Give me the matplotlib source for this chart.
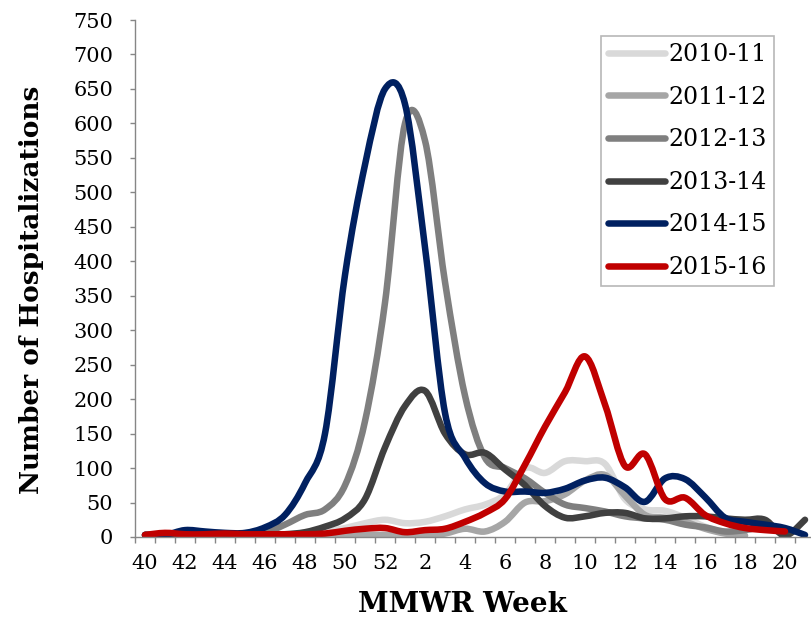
import numpy as np
import matplotlib
matplotlib.use("Agg")
import matplotlib.pyplot as plt
from matplotlib.path import Path
from matplotlib.patches import PathPatch
from matplotlib.lines import Line2D

plt.rcParams['font.family'] = ['DejaVu Serif']

# semaines MMWR (40 a 52 puis 1 a 21)
weeks = list(range(40, 53)) + list(range(1, 22))

# hospitalisations par saison
s2010_11 = [3, 3, 4, 4, 4, 4, 4, 4, 5, 8, 13, 20, 25, 20, 22, 30, 40, 47, 62, 100,
            93, 110, 110, 106, 55, 40, 38, 28, 15, 6, 2]
s2011_12 = [2, 2, 2, 2, 2, 2, 2, 2, 2, 2, 2, 3, 3, 3, 2, 5, 12, 8, 22, 50,
            52, 62, 82, 90, 60, 32, 28, 22, 12, 5, 2]
s2012_13 = [3, 3, 4, 4, 3, 3, 6, 18, 32, 40, 75, 168, 340, 600, 575, 370, 205, 115, 100, 85,
            64, 47, 42, 37, 30, 27, 25, 18, 14, 8, 10, 15, 10]
s2013_14 = [3, 3, 4, 4, 4, 3, 3, 4, 7, 15, 27, 55, 130, 190, 212, 150, 120, 122, 98, 75,
            45, 28, 30, 35, 35, 27, 27, 30, 30, 27, 25, 25, 2, 25]
s2014_15 = [3, 3, 10, 8, 6, 6, 14, 32, 78, 150, 380, 540, 650, 628, 420, 180, 115, 78, 66, 66,
            64, 70, 82, 86, 72, 51, 85, 84, 58, 28, 22, 18, 13, 3]
s2015_16 = [3, 6, 4, 4, 5, 4, 4, 4, 4, 5, 9, 12, 13, 7, 10, 12, 22, 35, 55, 105,
            160, 210, 262, 192, 103, 120, 55, 57, 32, 20, 13, 10, 8]

seasons = ['2010-11', '2011-12', '2012-13', '2013-14', '2014-15', '2015-16']
series = [s2010_11, s2011_12, s2012_13, s2013_14, s2014_15, s2015_16]
colors = ['#d9d9d9', '#a6a6a6', '#7f7f7f', '#404040', '#002060', '#c00000']


def smooth_path(y):
    # courbe lissee facon Excel (Bezier a partir des points voisins)
    x = np.arange(len(y), dtype=float)
    y = np.asarray(y, dtype=float)
    n = len(y)
    verts = [(x[0], y[0])]
    codes = [Path.MOVETO]
    for i in range(n - 1):
        x0, y0 = (x[i - 1], y[i - 1]) if i > 0 else (x[i], y[i])
        x3, y3 = (x[i + 2], y[i + 2]) if i + 2 < n else (x[i + 1], y[i + 1])
        c1 = (x[i] + (x[i + 1] - x0) / 6, y[i] + (y[i + 1] - y0) / 6)
        c2 = (x[i + 1] - (x3 - x[i]) / 6, y[i + 1] - (y3 - y[i]) / 6)
        verts += [c1, c2, (x[i + 1], y[i + 1])]
        codes += [Path.CURVE4] * 3
    return Path(verts, codes)


fig = plt.figure(figsize=(8.11, 6.31), dpi=100)
ax = fig.add_axes([135 / 811, 94 / 631, 680 / 811, 517 / 631])

lw = 4.7
for name, vals, col in zip(seasons, series, colors):
    patch = PathPatch(smooth_path(vals), facecolor='none', edgecolor=col, lw=lw,
                      capstyle='round', joinstyle='round')
    ax.add_patch(patch)

ax.set_xlim(-0.5, len(weeks) - 0.5)
ax.set_ylim(0, 750)
ax.set_yticks(range(0, 751, 50))
ax.set_xticks(range(0, len(weeks), 2))
ax.set_xticklabels([str(w) for w in weeks[::2]])
ax.set_xticks(np.arange(-0.5, len(weeks), 1), minor=True)
ax.tick_params(axis='x', which='major', length=0, pad=12, labelsize=15)
ax.tick_params(axis='x', which='minor', length=4, width=1, color='#868686', direction='out')
ax.tick_params(axis='y', length=3.6, width=1, color='#868686', labelsize=15, pad=12)

for sp in ['top', 'right']:
    ax.spines[sp].set_visible(False)
for sp in ['left', 'bottom']:
    ax.spines[sp].set_color('#868686')
    ax.spines[sp].set_linewidth(1)

fig.text(462 / 811, 1 - 605 / 631, 'MMWR Week', ha='center', va='center',
         fontsize=20, fontweight='bold')
fig.text(32 / 811, 1 - 290 / 631, 'Number of Hospitalizations', ha='center', va='center',
         rotation=90, fontsize=19, fontweight='bold')

handles = [Line2D([0], [0], color=c, lw=lw, solid_capstyle='round') for c in colors]
leg = fig.legend(handles, seasons, loc='upper left', bbox_to_anchor=(601 / 811, 1 - 36 / 631),
                 fontsize=17, frameon=True, fancybox=False, handlelength=2.4,
                 handletextpad=0.15, labelspacing=0.83, borderpad=0.3, borderaxespad=0)
leg.get_frame().set_edgecolor('#a6a6a6')
leg.get_frame().set_linewidth(1.2)

fig.savefig('out.png', dpi=100)
